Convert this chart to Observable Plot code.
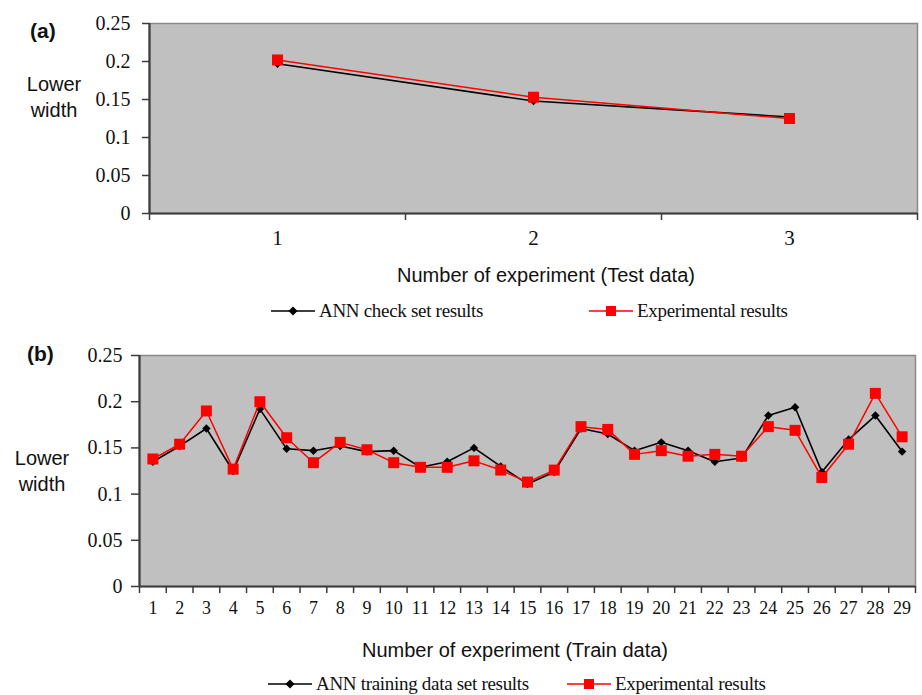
<!DOCTYPE html>
<html>
<head>
<meta charset="utf-8">
<script src="https://cdn.jsdelivr.net/npm/d3@7"></script>
<script src="https://cdn.jsdelivr.net/npm/@observablehq/plot@0.6"></script>
<style>
  html, body { margin: 0; padding: 0; background: #fff; }
  #wrap { position: relative; width: 922px; height: 695px; overflow: hidden; background: #fff; }
  .abs { position: absolute; white-space: nowrap; }
  .sans { font-family: "Liberation Sans", Arial, sans-serif; color: #111; }
  .serif { font-family: "Liberation Serif", "Times New Roman", serif; color: #111; }
  .panel { font-weight: bold; font-size: 21px; }
  .ylab { font-size: 20px; line-height: 26px; text-align: center; transform: translate(-50%, -50%); }
  .xlab { font-size: 20px; transform: translate(-50%, -50%); }
  .leg { font-size: 19px; display: flex; align-items: center; transform: translateY(-50%); letter-spacing: -0.3px; }
  .leg svg { margin-right: 4px; }
  svg.plotpanel text { font-family: "Liberation Serif", "Times New Roman", serif; }
</style>
</head>
<body>
<div id="wrap"></div>
<script>
// ---------- data ----------
const testExperiments = [1, 2, 3];
const testANN = [0.197, 0.148, 0.127];
const testExperimental = [0.202, 0.153, 0.125];

const trainExperiments = d3.range(1, 30);
const trainANN = [0.135, 0.152, 0.171, 0.125, 0.192, 0.149, 0.147, 0.152, 0.146, 0.147,
                  0.129, 0.135, 0.150, 0.130, 0.111, 0.124, 0.171, 0.165, 0.147, 0.156,
                  0.147, 0.135, 0.139, 0.185, 0.194, 0.124, 0.159, 0.185, 0.146];
const trainExperimental = [0.138, 0.154, 0.190, 0.127, 0.200, 0.161, 0.134, 0.156, 0.148, 0.134,
                  0.129, 0.129, 0.136, 0.126, 0.113, 0.126, 0.173, 0.170, 0.143, 0.147,
                  0.141, 0.143, 0.141, 0.173, 0.169, 0.118, 0.154, 0.209, 0.162];

const yTicks = [0, 0.05, 0.1, 0.15, 0.2, 0.25];
const labels = {
  a: "(a)", b: "(b)",
  yTitle: ["Lower", "width"],
  xTitleA: "Number of experiment (Test data)",
  xTitleB: "Number of experiment (Train data)",
  legANNa: "ANN check set results",
  legANNb: "ANN training data set results",
  legExp: "Experimental results"
};

const BLACK = "#000000", RED = "#ff0000", BG = "#c0c0c0", AXIS = "#3c3c3c";
const SERIF = "'Liberation Serif', 'Times New Roman', serif";

function rows(xs, ys) { return xs.map((x, i) => ({x, y: ys[i]})); }

function makePanel({xs, ann, exp, width, height, margins, tickFont, xFont, xPad, yPad, ytickSize}) {
  const annRows = rows(xs, ann), expRows = rows(xs, exp);
  const lo = d3.min(xs) - 0.5, hi = d3.max(xs) + 0.5;
  const edges = d3.range(lo, hi + 0.001, 1);
  const svg = Plot.plot({
    width, height,
    marginLeft: margins[0], marginRight: margins[1], marginTop: margins[2], marginBottom: margins[3],
    style: {fontFamily: SERIF, fontSize: tickFont + "px", color: "#111", background: "transparent"},
    x: {domain: [lo, hi], axis: null},
    y: {domain: [0, 0.25], axis: null},
    marks: [
      Plot.frame({fill: BG, stroke: "#8a8a8a", strokeWidth: 1.5}),
      Plot.ruleY([0], {stroke: AXIS, strokeWidth: 2.2}),
      Plot.ruleX([lo], {stroke: AXIS, strokeWidth: 2.2}),
      Plot.axisY({ticks: yTicks, tickFormat: d => String(d), tickSize: ytickSize, tickPadding: yPad, label: null, stroke: AXIS, strokeWidth: 1.5, fontFamily: SERIF, fontSize: tickFont}),
      Plot.axisX({ticks: edges, tickFormat: () => "", tickSize: 7, label: null, stroke: AXIS, strokeWidth: 1.5}),
      Plot.axisX({ticks: xs, tickFormat: d => String(d), tickSize: 0, tickPadding: xPad, label: null, fontSize: xFont, fontFamily: SERIF}),
      Plot.line(annRows, {x: "x", y: "y", stroke: BLACK, strokeWidth: 1.6}),
      Plot.dot(annRows, {x: "x", y: "y", symbol: "diamond2", r: 3.8, fill: BLACK, stroke: "none"}),
      Plot.line(expRows, {x: "x", y: "y", stroke: RED, strokeWidth: 1.5}),
      Plot.dot(expRows, {x: "x", y: "y", symbol: "square", r: 6.2, fill: RED, stroke: "none"})
    ]
  });
  svg.classList.add("plotpanel");
  return svg;
}

const wrap = document.getElementById("wrap");
function place(el, left, top) { el.style.position = "absolute"; el.style.left = left + "px"; el.style.top = top + "px"; wrap.appendChild(el); return el; }
function text(cls, html, left, top) { const d = document.createElement("div"); d.className = "abs " + cls; d.innerHTML = html; return place(d, left, top); }
function legendItem(label, kind, left, top) {
  const d = document.createElement("div");
  d.className = "abs serif leg";
  const sw = kind === "ann"
    ? `<svg width="44" height="14"><line x1="0" y1="7" x2="44" y2="7" stroke="${BLACK}" stroke-width="1.6"/><path d="M22 2.5 L26.5 7 L22 11.5 L17.5 7 Z" fill="${BLACK}"/></svg>`
    : `<svg width="44" height="14"><line x1="0" y1="7" x2="44" y2="7" stroke="${RED}" stroke-width="1.6"/><rect x="17" y="2" width="10" height="10" fill="${RED}"/></svg>`;
  d.innerHTML = sw + `<span>${label}</span>`;
  return place(d, left, top);
}

// Panel (a)
const svgA = makePanel({xs: testExperiments, ann: testANN, exp: testExperimental,
  width: 922, height: 255, margins: [149, 5, 23, 42], tickFont: 20, xFont: 21, xPad: 17, yPad: 12, ytickSize: 7});
place(svgA, 0, 0);
text("sans panel", labels.a, 30, 19);
text("sans ylab", labels.yTitle.join("<br>"), 54, 97);
text("sans xlab", labels.xTitleA, 546, 275);
legendItem(labels.legANNa, "ann", 271, 311);
legendItem(labels.legExp, "exp", 589, 311);

// Panel (b)
const svgB = makePanel({xs: trainExperiments, ann: trainANN, exp: trainExperimental,
  width: 922, height: 290, margins: [139, 7, 15, 44], tickFont: 20, xFont: 18, xPad: 15, yPad: 9, ytickSize: 8});
place(svgB, 0, 340);
text("sans panel", labels.b, 27, 342);
text("sans ylab", labels.yTitle.join("<br>"), 42, 471);
text("sans xlab", labels.xTitleB, 515, 650);
legendItem(labels.legANNb, "ann", 268, 684);
legendItem(labels.legExp, "exp", 567, 684);
</script>
</body>
</html>
